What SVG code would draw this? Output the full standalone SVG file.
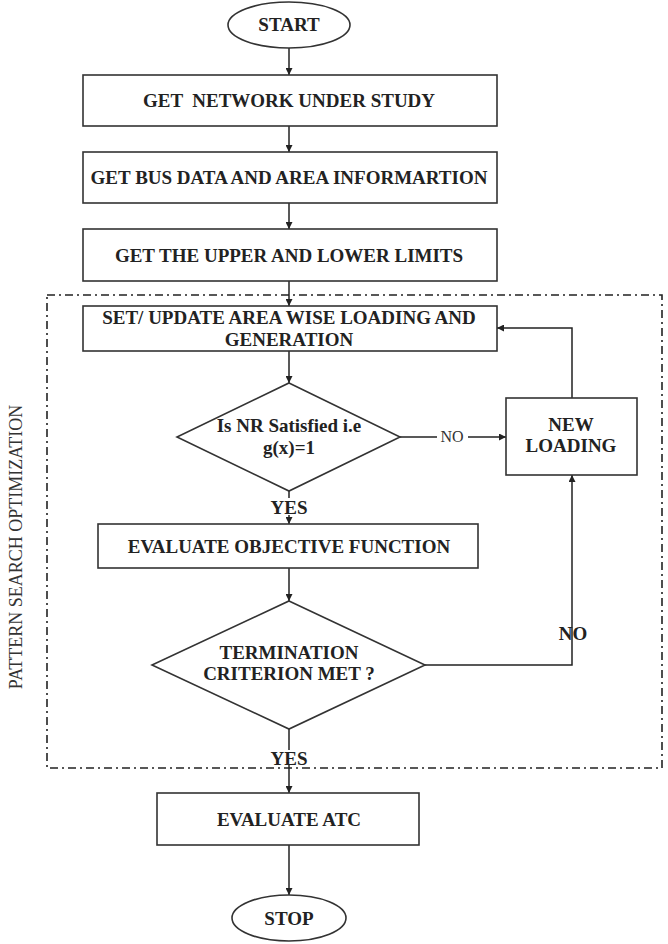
<svg xmlns="http://www.w3.org/2000/svg" width="668" height="944" viewBox="0 0 668 944">
<style>
.shape{fill:#fff;stroke:#333;stroke-width:1.6}
.t{font-family:"Liberation Serif","Times New Roman",serif;font-weight:bold;font-size:19px;fill:#222;text-anchor:middle}
.n{font-family:"Liberation Serif","Times New Roman",serif;font-size:16px;fill:#333;text-anchor:middle}
.c{fill:none;stroke:#222;stroke-width:1.5}
.frame{fill:none;stroke:#222;stroke-width:1.6;stroke-dasharray:8 4 2 4}
</style>
<defs>
<marker id="ah" viewBox="0 0 10 10" refX="10" refY="5" markerWidth="7" markerHeight="7" markerUnits="userSpaceOnUse" orient="auto">
<path d="M0,0 L10,5 L0,10 z" fill="#222"/>
</marker>
</defs>
<rect width="668" height="944" fill="#fff"/>

<g id="frame">
<rect class="frame" x="47" y="295" width="615" height="473"/>
<text class="n" transform="translate(22,547) rotate(-90)" style="font-size:18px;fill:#333">PATTERN SEARCH OPTIMIZATION</text>
</g>

<g id="connectors">
<line class="c" x1="289" y1="48" x2="289" y2="75" marker-end="url(#ah)"/>
<line class="c" x1="289" y1="126" x2="289" y2="152" marker-end="url(#ah)"/>
<line class="c" x1="289" y1="203" x2="289" y2="229" marker-end="url(#ah)"/>
<line class="c" x1="289" y1="281" x2="289" y2="306" marker-end="url(#ah)"/>
<line class="c" x1="289" y1="351" x2="289" y2="383" marker-end="url(#ah)"/>
<line class="c" x1="289" y1="491" x2="289" y2="524" marker-end="url(#ah)"/>
<line class="c" x1="289" y1="568" x2="289" y2="601" marker-end="url(#ah)"/>
<line class="c" x1="289" y1="729" x2="289" y2="793" marker-end="url(#ah)"/>
<line class="c" x1="289" y1="845" x2="289" y2="895" marker-end="url(#ah)"/>
<line class="c" x1="400" y1="437" x2="506" y2="437" marker-end="url(#ah)"/>
<polyline class="c" points="425,665 572,665 572,475" marker-end="url(#ah)"/>
<polyline class="c" points="572,398 572,328 497,328" marker-end="url(#ah)"/>
<rect x="437" y="428" width="31" height="17" fill="#fff"/>
<text class="n" x="452" y="442">NO</text>
<text class="t" x="573" y="640">NO</text>
<rect x="268" y="498" width="42" height="17" fill="#fff"/>
<text class="t" x="289" y="514">YES</text>
<rect x="268" y="750" width="42" height="15" fill="#fff"/>
<text class="t" x="289" y="765">YES</text>
</g>

<g id="start">
<ellipse class="shape" cx="289" cy="25" rx="61" ry="23"/>
<text class="t" x="289" y="31">START</text>
</g>
<g id="get-network">
<rect class="shape" x="83" y="75" width="414" height="51"/>
<text class="t" x="289" y="107" xml:space="preserve">GET  NETWORK UNDER STUDY</text>
</g>
<g id="get-bus-data">
<rect class="shape" x="83" y="152" width="414" height="51"/>
<text class="t" x="289" y="184">GET BUS DATA AND AREA INFORMARTION</text>
</g>
<g id="get-limits">
<rect class="shape" x="83" y="229" width="414" height="52"/>
<text class="t" x="289" y="262">GET THE UPPER AND LOWER LIMITS</text>
</g>
<g id="set-update">
<rect class="shape" x="83" y="306" width="414" height="45"/>
<text class="t" x="289" y="324">SET/ UPDATE AREA WISE LOADING AND</text>
<text class="t" x="289" y="346">GENERATION</text>
</g>
<g id="nr-satisfied">
<polygon class="shape" points="289,383 400,437 289,491 177,437"/>
<text class="t" x="289" y="432">Is NR Satisfied i.e</text>
<text class="t" x="289" y="454">g(x)=1</text>
</g>
<g id="new-loading">
<rect class="shape" x="506" y="398" width="131" height="77"/>
<text class="t" x="571" y="431">NEW</text>
<text class="t" x="571" y="452">LOADING</text>
</g>
<g id="evaluate-objective">
<rect class="shape" x="98" y="524" width="380" height="44"/>
<text class="t" x="289" y="553">EVALUATE OBJECTIVE FUNCTION</text>
</g>
<g id="termination">
<polygon class="shape" points="289,601 425,665 289,729 152,665"/>
<text class="t" x="289" y="659">TERMINATION</text>
<text class="t" x="289" y="680">CRITERION MET ?</text>
</g>
<g id="evaluate-atc">
<rect class="shape" x="157" y="793" width="262" height="52"/>
<text class="t" x="289" y="826">EVALUATE ATC</text>
</g>
<g id="stop">
<ellipse class="shape" cx="289" cy="918" rx="57" ry="23"/>
<text class="t" x="289" y="925">STOP</text>
</g>
</svg>
